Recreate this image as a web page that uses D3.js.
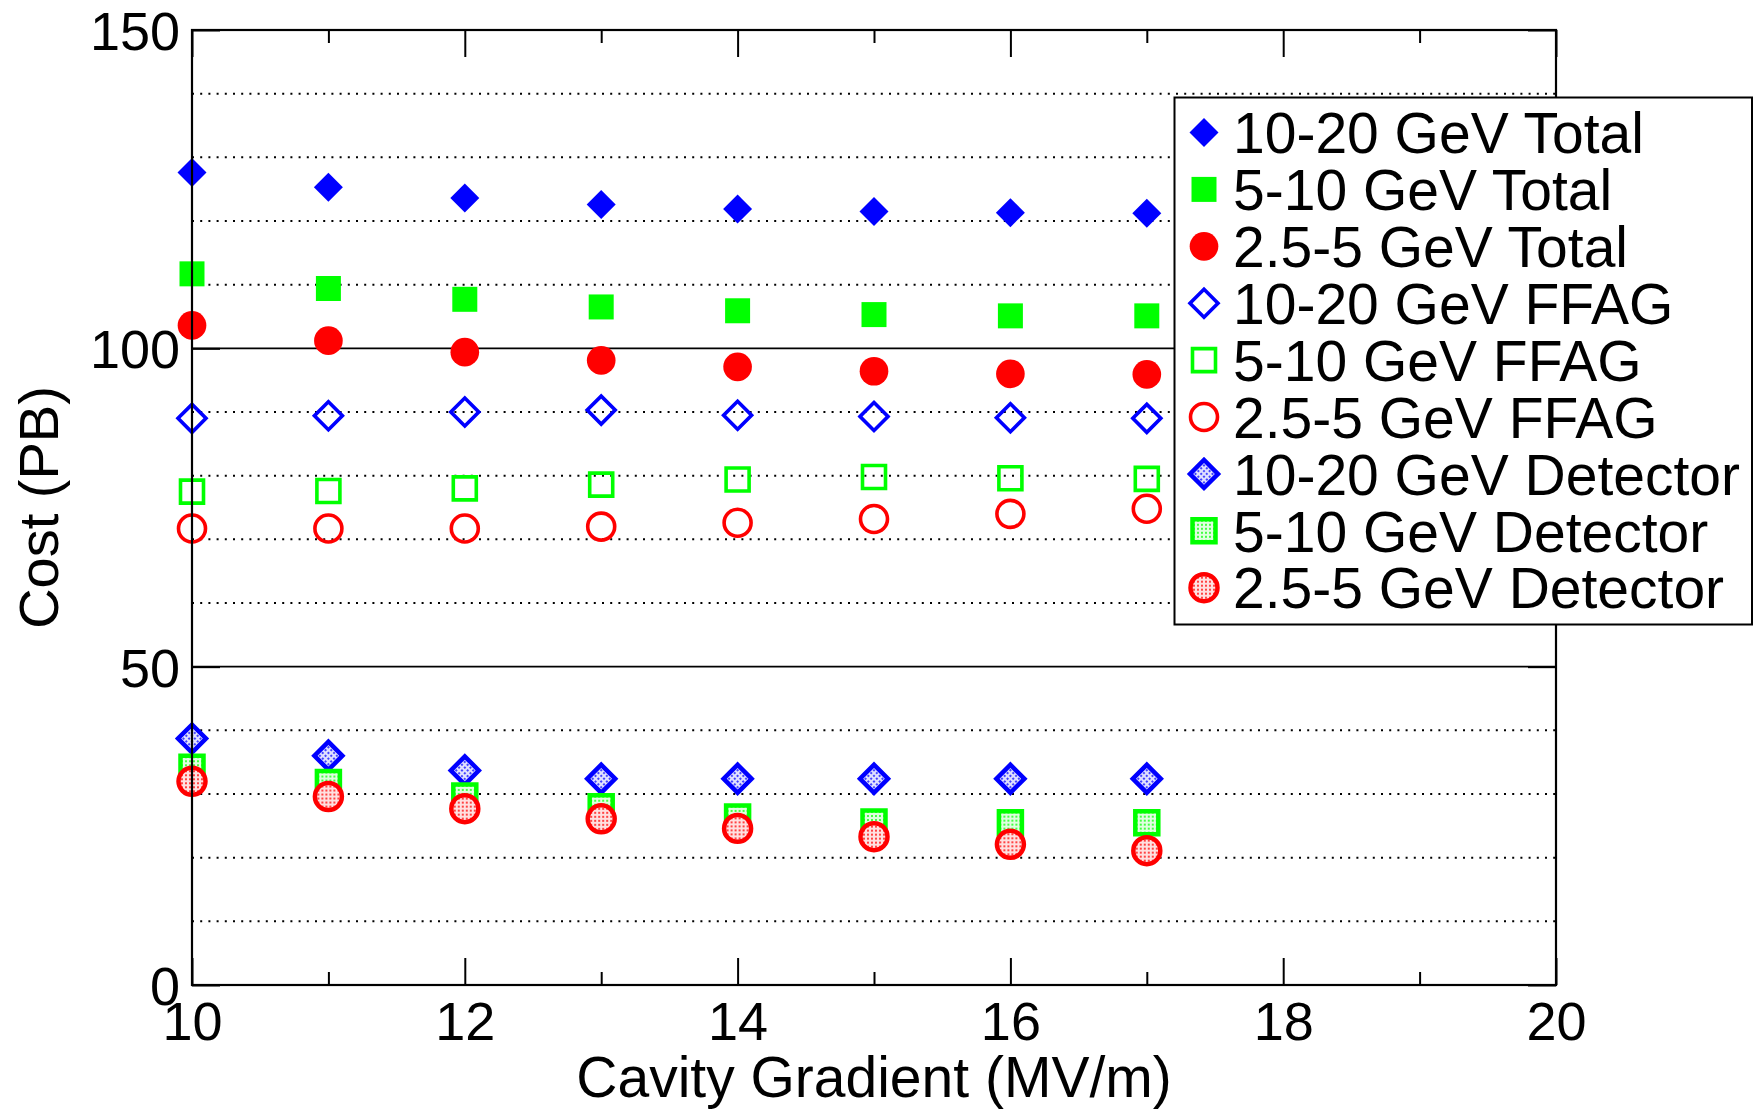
<!DOCTYPE html>
<html>
<head>
<meta charset="utf-8">
<script src="https://cdn.jsdelivr.net/npm/d3@7/dist/d3.min.js"></script>
<style>
  body { margin: 0; background: #fff; }
  svg { display: block; }
  text { font-family: "Liberation Sans", Arial, Helvetica, sans-serif; fill: #000; }
</style>
</head>
<body>
<div id="chart"></div>
<script>
// cavity gradient (MV/m)
const gradient = [10, 11, 12, 13, 14, 15, 16, 17];

// costs (PB)
const total10_20 = [127.6, 125.3, 123.6, 122.6, 121.9, 121.5, 121.3, 121.2];
const total5_10  = [111.7, 109.4, 107.7, 106.5, 105.9, 105.3, 105.1, 105.1];
const total2_5   = [103.6, 101.2, 99.4, 98.1, 97.1, 96.4, 96.0, 95.9];
const ffag10_20  = [89.0, 89.4, 90.0, 90.3, 89.5, 89.3, 89.1, 89.0];
const ffag5_10   = [77.5, 77.6, 78.0, 78.6, 79.4, 79.8, 79.6, 79.5];
const ffag2_5    = [71.7, 71.7, 71.7, 72.0, 72.6, 73.2, 74.0, 74.8];
const det10_20   = [38.7, 36.0, 33.7, 32.4, 32.4, 32.4, 32.4, 32.4];
const det5_10    = [34.2, 31.8, 29.7, 28.0, 26.4, 25.6, 25.5, 25.5];
const det2_5     = [32.0, 29.6, 27.7, 26.1, 24.6, 23.3, 22.1, 21.1];

const seriesNames = [
  "10-20 GeV Total", "5-10 GeV Total", "2.5-5 GeV Total",
  "10-20 GeV FFAG", "5-10 GeV FFAG", "2.5-5 GeV FFAG",
  "10-20 GeV Detector", "5-10 GeV Detector", "2.5-5 GeV Detector"
];

const xTicks = [10, 12, 14, 16, 18, 20];
const xMinorTicks = [11, 13, 15, 17, 19];
const yTicks = [0, 50, 100, 150];
const yDotted = [10, 20, 30, 40, 60, 70, 80, 90, 110, 120, 130, 140];
const ySolid = [50, 100];

const blue = "#0000ff", green = "#00ff00", red = "#ff0000";

const series = [
  { name: seriesNames[0], values: total10_20, shape: "diamond", color: blue,  style: "filled" },
  { name: seriesNames[1], values: total5_10,  shape: "square",  color: green, style: "filled" },
  { name: seriesNames[2], values: total2_5,   shape: "circle",  color: red,   style: "filled" },
  { name: seriesNames[3], values: ffag10_20,  shape: "diamond", color: blue,  style: "open" },
  { name: seriesNames[4], values: ffag5_10,   shape: "square",  color: green, style: "open" },
  { name: seriesNames[5], values: ffag2_5,    shape: "circle",  color: red,   style: "open" },
  { name: seriesNames[6], values: det10_20,   shape: "diamond", color: blue,  style: "hatch", pid: "hb" },
  { name: seriesNames[7], values: det5_10,    shape: "square",  color: green, style: "hatch", pid: "hg" },
  { name: seriesNames[8], values: det2_5,     shape: "circle",  color: red,   style: "hatch", pid: "hr" }
];

const width = 1754, height = 1109;
const plot = { left: 192, right: 1556, top: 30, bottom: 985 };

const svg = d3.select("#chart").append("svg")
  .attr("width", width)
  .attr("height", height);

svg.append("rect").attr("width", width).attr("height", height).attr("fill", "#fff");

const x = d3.scaleLinear().domain([10, 20]).range([plot.left, plot.right]);
const y = d3.scaleLinear().domain([0, 150]).range([plot.bottom, plot.top]);

// dotted pattern fill for the detector markers
const defs = svg.append("defs");
[["hb", blue], ["hg", green], ["hr", red]].forEach(([id, c]) => {
  const p = defs.append("pattern")
    .attr("id", id)
    .attr("patternUnits", "userSpaceOnUse")
    .attr("width", 4).attr("height", 4);
  p.append("rect").attr("width", 4).attr("height", 4).attr("fill", "#fff");
  p.append("rect").attr("width", 4).attr("height", 4).attr("fill", c).attr("opacity", 0.12);
  p.append("circle").attr("cx", 2).attr("cy", 2).attr("r", 0.95).attr("fill", c);
});

// grid
svg.append("g").selectAll("line").data(yDotted).enter().append("line")
  .attr("x1", plot.left).attr("x2", plot.right)
  .attr("y1", d => y(d)).attr("y2", d => y(d))
  .attr("stroke", "#000").attr("stroke-width", 2)
  .attr("stroke-dasharray", "2 6.2");

svg.append("g").selectAll("line").data(ySolid).enter().append("line")
  .attr("x1", plot.left).attr("x2", plot.right)
  .attr("y1", d => y(d)).attr("y2", d => y(d))
  .attr("stroke", "#000").attr("stroke-width", 1.6);

// markers
const sizes = {
  filled: { diamond: 420, square: 625, circle: 645 },
  open:   { diamond: 392, square: 529, circle: 572 },
  hatch:  { diamond: 392, square: 529, circle: 572 }
};

function symbolPath(s) {
  const type = s.shape === "circle" ? d3.symbolCircle : d3.symbolSquare;
  return d3.symbol().type(type).size(sizes[s.style][s.shape])();
}

function styleMarker(sel, s) {
  const rot = s.shape === "diamond" ? " rotate(45)" : "";
  sel.attr("d", symbolPath(s));
  if (s.style === "filled") {
    sel.attr("fill", s.color).attr("stroke", "none");
  } else if (s.style === "open") {
    sel.attr("fill", "none").attr("stroke", s.color).attr("stroke-width", 3.6);
  } else {
    sel.attr("fill", `url(#${s.pid})`).attr("stroke", s.color).attr("stroke-width", 4.5);
  }
  return rot;
}

series.forEach(s => {
  svg.append("g").selectAll("path")
    .data(gradient.map((g, i) => [g, s.values[i]]))
    .enter().append("path")
    .each(function(d) {
      const sel = d3.select(this);
      const rot = styleMarker(sel, s);
      sel.attr("transform", `translate(${x(d[0])},${y(d[1])})${rot}`);
    });
});

// axes
const fontTick = 54;

svg.append("g")
  .attr("transform", `translate(0,${plot.bottom})`)
  .call(d3.axisBottom(x).tickValues(xTicks).tickFormat(d3.format("d"))
    .tickSizeInner(-27).tickSizeOuter(0).tickPadding(17));

svg.append("g")
  .attr("transform", `translate(0,${plot.bottom})`)
  .call(d3.axisBottom(x).tickValues(xMinorTicks).tickFormat("")
    .tickSizeInner(-13).tickSizeOuter(0));

svg.append("g")
  .attr("transform", `translate(0,${plot.top})`)
  .call(d3.axisTop(x).tickValues(xTicks).tickFormat("")
    .tickSizeInner(-27).tickSizeOuter(0));

svg.append("g")
  .attr("transform", `translate(0,${plot.top})`)
  .call(d3.axisTop(x).tickValues(xMinorTicks).tickFormat("")
    .tickSizeInner(-13).tickSizeOuter(0));

const yAxis = svg.append("g")
  .attr("transform", `translate(${plot.left},0)`)
  .call(d3.axisLeft(y).tickValues(yTicks).tickFormat(d3.format("d"))
    .tickSizeInner(-28).tickSizeOuter(0).tickPadding(12));

svg.append("g")
  .attr("transform", `translate(${plot.right},0)`)
  .call(d3.axisRight(y).tickValues(yTicks).tickFormat("")
    .tickSizeInner(-28).tickSizeOuter(0));

svg.selectAll(".domain").remove();
svg.selectAll(".tick line").attr("stroke", "#000").attr("stroke-width", 2);
svg.selectAll(".tick text")
  .attr("font-size", fontTick)
  .attr("font-family", "'Liberation Sans', Arial, sans-serif")
  .attr("fill", "#000");
yAxis.selectAll(".tick text").attr("dy", "0.36em");

// plot frame
svg.append("rect")
  .attr("x", plot.left).attr("y", plot.top)
  .attr("width", plot.right - plot.left).attr("height", plot.bottom - plot.top)
  .attr("fill", "none").attr("stroke", "#000").attr("stroke-width", 2.2);

// axis titles
svg.append("text")
  .attr("x", (plot.left + plot.right) / 2).attr("y", 1097)
  .attr("text-anchor", "middle").attr("font-size", 57)
  .text("Cavity Gradient (MV/m)");

svg.append("text")
  .attr("transform", `translate(58,${(plot.top + plot.bottom) / 2}) rotate(-90)`)
  .attr("text-anchor", "middle").attr("font-size", 56)
  .text("Cost (PB)");

// legend
const legend = { x: 1174.5, y: 97.5, w: 577.5, h: 527, row0: 132.5, step: 56.9 };
const lg = svg.append("g");
lg.append("rect")
  .attr("x", legend.x).attr("y", legend.y)
  .attr("width", legend.w).attr("height", legend.h)
  .attr("fill", "#fff").attr("stroke", "#000").attr("stroke-width", 2);

const rows = lg.selectAll("g.row").data(series).enter().append("g")
  .attr("class", "row")
  .attr("transform", (d, i) => `translate(0,${legend.row0 + i * legend.step})`);

rows.append("path").each(function(s) {
  const sel = d3.select(this);
  const rot = styleMarker(sel, s);
  sel.attr("transform", `translate(1204,0)${rot}`);
});

rows.append("text")
  .attr("x", 1233).attr("y", 20.7)
  .attr("font-size", 57)
  .text(d => d.name);
</script>
</body>
</html>
